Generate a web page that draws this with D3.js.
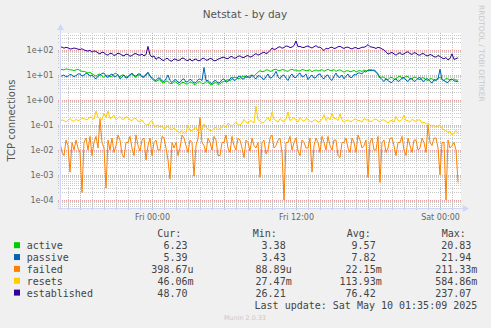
<!DOCTYPE html>
<html><head><meta charset="utf-8">
<script src="https://cdn.jsdelivr.net/npm/d3@7"></script>
<style>html,body{margin:0;padding:0;background:#F0F0F0;}svg{display:block;}</style>
</head><body>
<svg id="chart" width="491" height="328"></svg>
<script>
// ---------- data ----------
const seriesNames = ["active", "passive", "failed", "resets", "established"];
const seriesColors = ["#00CC00", "#0066B3", "#FF8000", "#FFCC00", "#330099"];
const startTime = Date.UTC(2025, 4, 8, 16, 20); // Thu 16:20
const seriesStepMinutes = [10, 10, 10, 10, 10];

const active = [
  17,16.5, 16,17.5, 17,16, 16,15, 16,17, 15,14, 14,13, 12,13, 11,10, 9,10.5,
  11,9, 8,9.5, 10,8.5, 9,11, 12,9.5, 8.5,10, 10,8, 9,10.5, 11,9, 8,10,
  10,8.5, 9,11, 12,9, 7,6, 5.5,6.2, 6.5,5, 4.8,5.8, 5.5,4.6, 4.5,5.4, 5.2,4.4,
  4.2,5, 5,4.3, 4.5,5.3, 5,4.2, 4.3,5.1, 5.5,4.5, 4.6,5.4, 5.2,4.3, 4,4.8, 5,4.2,
  4.4,5.2, 5.5,6, 6.5,5.8, 7,8.2, 8,7, 7.5,8.8, 9,8, 8,9.5, 10,9, 11,13,
  15,13.5, 14,16, 16,14, 14.5,16.5, 17,15, 15,16.5, 16,14.5, 14,16, 17,15.5, 16,14.5,
  14.5,16.5, 16,14.8, 15,16.2, 13.5,15, 16,14.5, 15,16.5, 14,15.5, 17,15, 15,16.5, 14,15.5,
  16,14.5, 13,14.5, 15,13.5, 14,15.5, 13,14.5, 15,13.8, 16,14.5, 15,16.5, 16,14.5, 13,10,
  7.5,8.5, 8,7, 6.5,7.8, 8,6.8, 7,8.5, 9,7.5, 7.5,9, 8.5,7.2, 7,8.2, 8,6.8,
  6.5,7.8, 7.5,6.5, 6,7.2, 7,6.2, 6.5,7.5, 8,6.8, 6,7.2, 7,6.3, 6.5,7, 6.2,6.23];
const passive = [
  8,9.5, 10,8.5, 9,10.5, 10,8.5, 9.5,11, 11,9, 10,11.5, 11,9, 10,8, 7,9,
  10,11.5, 12,9, 8,10, 11,8.5, 9,10.5, 7,8.5, 10,7.5, 8,10, 12,9.5, 9,11,
  11,8.5, 8,10, 13,9, 8,6.5, 6,7.5, 7.5,5.8, 5.5,7, 10,6, 5,6.2, 6.5,5.2,
  5,6.5, 7,5.2, 5.5,6.8, 6,4.8, 5,6.5, 7,6, 20,6, 6,5, 4.5,5.8, 6,4.8,
  5,6.5, 7,5.2, 5.5,7, 8,6, 6.5,8.5, 9,7, 7,9.5, 8.5,7.5, 10,8, 7,9.5,
  9,7.5, 6.5,8.5, 11,7.5, 8,10, 14,8.5, 7,9.5, 10,7.5, 6,9, 11,8, 8,10.5,
  12,8.5, 9,11, 6.5,8.5, 10,7.5, 8,10.5, 11,8, 7,9.5, 10,7, 6,9, 12,8.5,
  8,10, 7,9, 11,8, 8,10.5, 10,12, 12,11, 14,13, 16,15, 15,16, 14,11,
  8,6.5, 5.5,7, 6,5.2, 5,6.5, 7,5.5, 6,7.5, 8,6.2, 5.5,7, 7,5.5, 6,7.5,
  8,6, 5.5,7, 7,5.5, 4.8,6.5, 6,7, 17,6.5, 6,5.2, 5,6.5, 7,5.8, 5.6,5.39];
const failed = [
  0.02,0.008, 0.006,0.025, 0.015,0.0013, 0.02,0.01, 0.025,0.012,
  0.008,0.0002, 0.02,0.03, 0.01,0.035, 0.006,0.02, 0.035,0.012,
  0.17,0.02, 0.012,0.0003, 0.025,0.01, 0.03,0.008, 0.015,0.04,
  0.025,0.007, 0.005,0.02, 0.02,0.035, 0.012,0.006, 0.04,0.015,
  0.009,0.025, 0.03,0.004, 0.015,0.03, 0.006,0.02, 0.025,0.01,
  0.01,0.035, 0.03,0.012, 0.004,0.0007, 0.02,0.012, 0.02,0.006,
  0.012,0.04, 0.03,0.015, 0.008,0.025, 0.02,0.0009, 0.015,0.03,
  0.2,0.02, 0.015,0.008, 0.03,0.02, 0.01,0.035, 0.025,0.006,
  0.006,0.02, 0.02,0.04, 0.012,0.008, 0.035,0.015, 0.01,0.03,
  0.025,0.012, 0.005,0.025, 0.02,0.009, 0.03,0.015, 0.012,0.02,
  0.0008,0.02, 0.025,0.007, 0.01,0.03, 0.04,0.012, 0.015,0.025,
  0.03,0.008, 0.0001,0.02, 0.02,0.035, 0.01,0.02, 0.03,0.009,
  0.006,0.025, 0.02,0.012, 0.012,0.03, 0.0013,0.015, 0.03,0.02,
  0.008,0.035, 0.02,0.01, 0.035,0.015, 0.01,0.025, 0.025,0.006,
  0.005,0.02, 0.02,0.03, 0.012,0.008, 0.03,0.02, 0.008,0.04,
  0.025,0.012, 0.015,0.025, 0.0008,0.02, 0.03,0.01, 0.01,0.035,
  0.0005,0.02, 0.025,0.008, 0.012,0.03, 0.03,0.015, 0.006,0.02,
  0.02,0.035, 0.01,0.006, 0.03,0.015, 0.008,0.025, 0.025,0.01,
  0.012,0.03, 0.02,0.008, 0.1,0.02, 0.015,0.03, 0.03,0.012,
  0.001,0.02, 0.02,0.0001, 0.025,0.012, 0.015,0.02, 0.01,0.0005];
const resets = [
  0.14,0.16, 0.15,0.13, 0.16,0.18, 0.15,0.14, 0.17,0.15,
  0.16,0.19, 0.18,0.16, 0.17,0.21, 0.2,0.17, 0.36,0.2,
  0.18,0.16, 0.3,0.2, 0.36,0.18, 0.2,0.25, 0.16,0.19,
  0.22,0.17, 0.17,0.21, 0.2,0.16, 0.15,0.19, 0.18,0.14,
  0.14,0.16, 0.12,0.1, 0.1,0.13, 0.15,0.09, 0.09,0.1,
  0.08,0.09, 0.07,0.08, 0.09,0.07, 0.065,0.075, 0.06,0.055,
  0.05,0.06, 0.045,0.05, 0.1,0.06, 0.06,0.07, 0.08,0.055,
  0.05,0.065, 0.11,0.08, 0.07,0.06, 0.06,0.075, 0.08,0.065,
  0.07,0.09, 0.1,0.08, 0.12,0.1, 0.09,0.11, 0.13,0.1,
  0.1,0.12, 0.17,0.13, 0.12,0.15, 0.14,0.12, 0.58,0.16,
  0.15,0.12, 0.13,0.16, 0.2,0.14, 0.33,0.17, 0.15,0.13,
  0.18,0.15, 0.14,0.17, 0.33,0.15, 0.17,0.2, 0.15,0.13,
  0.2,0.16, 0.14,0.18, 0.17,0.14, 0.13,0.16, 0.16,0.13,
  0.14,0.17, 0.26,0.15, 0.2,0.16, 0.3,0.18, 0.18,0.15,
  0.28,0.16, 0.13,0.15, 0.16,0.14, 0.14,0.17, 0.17,0.15,
  0.15,0.13, 0.18,0.16, 0.16,0.14, 0.14,0.17, 0.17,0.15,
  0.13,0.16, 0.16,0.14, 0.12,0.15, 0.15,0.13, 0.22,0.15,
  0.14,0.17, 0.25,0.15, 0.15,0.13, 0.17,0.15, 0.14,0.16,
  0.16,0.12, 0.13,0.11, 0.11,0.1, 0.09,0.1, 0.08,0.09,
  0.1,0.07, 0.065,0.06, 0.05,0.055, 0.04,0.05, 0.06,0.046];
const established = [
  125,132, 118,128, 122,110, 112,120, 115,108, 105,112, 100,95, 90,98, 82,92, 88,76,
  70,82, 78,66, 62,74, 72,60, 65,75, 70,62, 58,68, 66,56, 60,70, 72,64,
  62,68, 58,66, 140,64, 52,58, 42,50, 48,40, 38,46, 45,37, 36,44, 42,38,
  40,48, 46,39, 38,44, 36,41, 44,37, 38,45, 47,39, 40,46, 44,37, 38,43,
  46,50, 52,46, 45,53, 55,47, 48,56, 58,51, 50,57, 60,52, 55,64, 72,62,
  68,76, 82,72, 78,95, 120,105, 110,128, 135,118, 125,145, 140,125, 130,150, 230,135,
  140,128, 125,138, 145,130, 120,135, 150,128, 130,112, 95,118, 110,125, 130,115, 120,135,
  140,126, 115,128, 130,118, 110,122, 125,112, 118,130, 128,140, 165,135, 130,125, 115,128,
  122,110, 100,85, 68,75, 80,70, 62,72, 78,66, 70,80, 85,72, 66,78, 75,64,
  62,72, 70,60, 58,66, 62,54, 52,60, 55,48, 44,50, 40,46, 70,42, 45,49];

const curText = ["6.23", "5.39", "398.67u", "46.06m", "48.70"];
const minText = ["3.38", "3.43", "88.89u", "27.47m", "26.21"];
const avgText = ["9.57", "7.82", "22.15m", "113.93m", "76.42"];
const maxText = ["20.83", "21.94", "211.33m", "584.86m", "237.07"];
const columnHeaders = ["Cur:", "Min:", "Avg:", "Max:"];

const yTickValues = [1e2, 1e1, 1e0, 1e-1, 1e-2, 1e-3, 1e-4];
const titleText = "Netstat - by day";
const yAxisTitle = "TCP connections";
const lastUpdate = "Last update: Sat May 10 01:35:09 2025";
const muninVersion = "Munin 2.0.33";
const watermark = "RRDTOOL / TOBI OETIKER";

// ---------- layout ----------
const W = 491, H = 328;
const plot = {left: 60, right: 460, top: 33, bottom: 208};
const svg = d3.select("#chart");
svg.append("rect").attr("width", W).attr("height", H).attr("fill", "#F0F0F0");

const x = d3.scaleUtc()
  .domain([new Date(startTime), new Date(startTime + 400 * 5 * 60000)])
  .range([plot.left, plot.right]);
const y = d3.scaleLog()
  .domain([Math.pow(10, -4.32), Math.pow(10, 2.68)])
  .range([plot.bottom, plot.top]);

svg.append("rect").attr("x", plot.left).attr("y", plot.top)
  .attr("width", plot.right - plot.left + 1).attr("height", plot.bottom - plot.top)
  .attr("fill", "#FFFFFF");

const gridMinor = "#C8C8C8", gridMajor = "#F2A0A0";

const minorY = [];
for (let k = -5; k <= 2; k++) for (let m = 2; m <= 9; m++) {
  const v = m * Math.pow(10, k);
  if (v > y.domain()[0] && v < y.domain()[1]) minorY.push(v);
}
svg.append("g").selectAll("line").data(minorY).join("line")
  .attr("x1", plot.left - 2).attr("x2", plot.right + 1)
  .attr("y1", d => Math.round(y(d)) + 0.5).attr("y2", d => Math.round(y(d)) + 0.5)
  .attr("stroke", gridMinor).attr("stroke-dasharray", "1,1").attr("stroke-width", 1);

const hours = d3.utcHour.every(1).range(x.domain()[0], x.domain()[1]).filter(d => x(d) > plot.left + 1);
svg.append("g").selectAll("line").data(hours).join("line")
  .attr("x1", d => Math.round(x(d)) + 0.5).attr("x2", d => Math.round(x(d)) + 0.5)
  .attr("y1", plot.top).attr("y2", plot.bottom + 2)
  .attr("stroke", gridMinor).attr("stroke-dasharray", "1,1");

const majors = d3.utcHour.every(6).range(x.domain()[0], x.domain()[1]);
svg.append("g").selectAll("line").data(majors).join("line")
  .attr("x1", d => Math.round(x(d)) + 0.5).attr("x2", d => Math.round(x(d)) + 0.5)
  .attr("y1", plot.top).attr("y2", plot.bottom + 2)
  .attr("stroke", gridMajor).attr("stroke-dasharray", "1,1");

svg.append("g").selectAll("line").data(yTickValues).join("line")
  .attr("x1", plot.left - 2).attr("x2", plot.right + 1)
  .attr("y1", d => Math.round(y(d)) + 0.5).attr("y2", d => Math.round(y(d)) + 0.5)
  .attr("stroke", gridMajor).attr("stroke-dasharray", "1,1");

const fmtExp = v => {
  const e = Math.round(Math.log10(v));
  return "1e" + (e < 0 ? "-" : "+") + String(Math.abs(e)).padStart(2, "0");
};
svg.append("g").selectAll("text").data(yTickValues).join("text")
  .attr("x", 53.5).attr("y", d => y(d) + 3)
  .attr("text-anchor", "end").attr("font-family", "DejaVu Sans")
  .attr("font-size", 8).attr("fill", "#666").text(fmtExp);

const labelTimes = d3.utcHour.every(12).range(x.domain()[0], x.domain()[1]);
svg.append("g").selectAll("text").data(labelTimes).join("text")
  .attr("x", d => x(d) + 0.5).attr("y", 219.5)
  .attr("text-anchor", "middle").attr("font-family", "DejaVu Sans")
  .attr("font-size", 8).attr("fill", "#666").text(d3.utcFormat("%a %H:%M"));

// lines
svg.append("clipPath").attr("id", "clip").append("rect")
  .attr("x", plot.left + 1).attr("y", plot.top).attr("width", plot.right - plot.left)
  .attr("height", plot.bottom - plot.top);
const allSeries = [active, passive, failed, resets, established].map((values, k) =>
  ({values, step: seriesStepMinutes[k], color: seriesColors[k]}));
svg.append("g").attr("clip-path", "url(#clip)").selectAll("path").data(allSeries).join("path")
  .attr("d", s => d3.line()
    .x((d, i) => x(new Date(startTime + i * s.step * 60000)))
    .y(d => y(d))(s.values))
  .attr("fill", "none")
  .attr("stroke", s => s.color).attr("stroke-width", 1)
  .attr("stroke-linejoin", "round");

// axes
const axisColor = "#CFD6F8";
svg.append("line").attr("x1", plot.left + 0.5).attr("x2", plot.left + 0.5)
  .attr("y1", plot.bottom + 2).attr("y2", plot.top - 3).attr("stroke", axisColor);
svg.append("line").attr("x1", plot.left - 2).attr("x2", plot.right + 4)
  .attr("y1", plot.bottom + 0.5).attr("y2", plot.bottom + 0.5).attr("stroke", axisColor);
svg.append("path").attr("d", `M${plot.left - 3},${plot.top - 3}L${plot.left + 4},${plot.top - 3}L${plot.left + 0.5},${plot.top - 9}Z`).attr("fill", axisColor);
svg.append("path").attr("d", `M${plot.right + 3},${plot.bottom - 3}L${plot.right + 3},${plot.bottom + 4}L${plot.right + 9},${plot.bottom + 0.5}Z`).attr("fill", axisColor);

svg.append("text").attr("x", 245).attr("y", 18).attr("text-anchor", "middle")
  .attr("font-family", "DejaVu Sans").attr("font-size", 10.5).attr("fill", "#555").text(titleText);
svg.append("text").attr("transform", "translate(15,120.5) rotate(-90)")
  .attr("text-anchor", "middle").attr("font-family", "DejaVu Sans")
  .attr("font-size", 10).attr("fill", "#555").text(yAxisTitle);
svg.append("text").attr("transform", "translate(478.5,5) rotate(90)")
  .attr("font-family", "DejaVu Sans").attr("font-size", 7.5).attr("fill", "#C8C8C8").text(watermark);

// legend
const mono = "DejaVu Sans Mono";
const legendColor = "#444";
const headerX = [157.3, 252.7, 346.7, 441.7];
const colEnd = [193.5, 291.7, 381.7, 477.3];
const charW = 6.02;
svg.append("g").selectAll("text").data(columnHeaders).join("text")
  .attr("x", (d, i) => headerX[i]).attr("y", 237.3)
  .attr("font-family", mono).attr("font-size", 10).attr("fill", legendColor).text(d => d);
const rowY = i => 249.2 + i * 11.85;
const lg = svg.append("g");
seriesNames.forEach((name, i) => {
  lg.append("rect").attr("x", 14).attr("y", rowY(i) - 7).attr("width", 6).attr("height", 6)
    .attr("fill", seriesColors[i]);
  lg.append("text").attr("x", 26.7).attr("y", rowY(i)).attr("font-family", mono)
    .attr("font-size", 10).attr("fill", legendColor).text(name);
  [curText, minText, avgText, maxText].forEach((col, c) => {
    const s = col[i];
    const hasUnit = /[a-zA-Z]$/.test(s);
    lg.append("text").attr("x", colEnd[c] - (hasUnit ? 0 : charW)).attr("y", rowY(i))
      .attr("text-anchor", "end").attr("font-family", mono).attr("font-size", 10)
      .attr("fill", legendColor).text(s);
  });
});
svg.append("text").attr("x", 477.3).attr("y", 309.2).attr("text-anchor", "end")
  .attr("font-family", mono).attr("font-size", 10).attr("fill", legendColor).text(lastUpdate);
svg.append("text").attr("x", 245).attr("y", 319.5).attr("text-anchor", "middle")
  .attr("font-family", "DejaVu Sans").attr("font-size", 6.4).attr("fill", "#C8C8C8").text(muninVersion);
</script>
</body></html>
